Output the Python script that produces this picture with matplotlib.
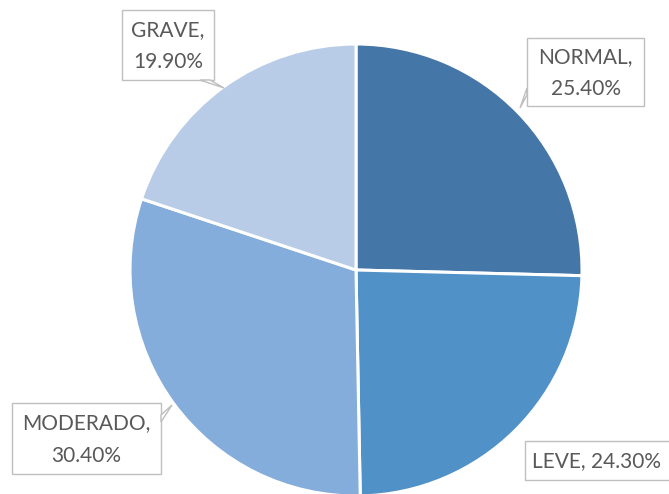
import matplotlib.pyplot as plt
from matplotlib.patches import Rectangle

# data
labels = ['NORMAL', 'LEVE', 'MODERADO', 'GRAVE']
values = [25.4, 24.3, 30.4, 19.9]
colors = ['#4576A8', '#5091C7', '#85ADDB', '#B8CCE8']

W, H = 669, 494
fig = plt.figure(figsize=(W / 100, H / 100), dpi=100)

# pie axes, y up, pixel units
pax = fig.add_axes([0, 0, 1, 1], zorder=0)
cx, cy, r = 356, H - 270, 226
pax.pie(values, colors=colors, startangle=90, counterclock=False,
        center=(cx, cy), radius=r, frame=True,
        wedgeprops=dict(edgecolor='white', linewidth=2.2))
pax.set_xlim(0, W)
pax.set_ylim(0, H)
pax.axis('off')

# overlay axes for the labels, y down, pixel units
ax = fig.add_axes([0, 0, 1, 1], zorder=1)
ax.set_xlim(0, W)
ax.set_ylim(H, 0)
ax.axis('off')
ax.patch.set_alpha(0)

txt = '#595959'
edge = '#BFBFBF'
font = dict(family='Lato', fontsize=15, color=txt)

# label boxes (left, top, right, bottom) in pixels
boxes = {
    'GRAVE': (122, 10, 214, 80),
    'NORMAL': (527, 38, 644, 106),
    'MODERADO': (12, 403, 161, 474),
    'LEVE': (525, 441, 680, 480),
}
leaders = {
    'GRAVE': [(200, 80), (224, 88), (210, 80)],
    'NORMAL': [(527, 88), (520, 108), (527, 95)],
    'MODERADO': [(161, 415), (172, 405), (161, 422)],
}

for lab, val in zip(labels, values):
    x0, y0, x1, y1 = boxes[lab]
    ax.add_patch(Rectangle((x0, y0), x1 - x0, y1 - y0, facecolor='white',
                           edgecolor=edge, linewidth=1.0, clip_on=False))
    if lab in leaders:
        pts = leaders[lab]
        ax.fill([p[0] for p in pts], [p[1] for p in pts], facecolor='white',
                edgecolor=edge, linewidth=1.0)
    if lab == 'LEVE':
        ax.text(532, (y0 + y1) / 2 + 1, f'{lab}, {val:.2f}%', ha='left',
                va='center', **font)
    else:
        ax.text((x0 + x1) / 2, (y0 + y1) / 2 + 1, f'{lab},\n{val:.2f}%',
                ha='center', va='center', linespacing=1.75, **font)

fig.savefig('out.png', dpi=100)
